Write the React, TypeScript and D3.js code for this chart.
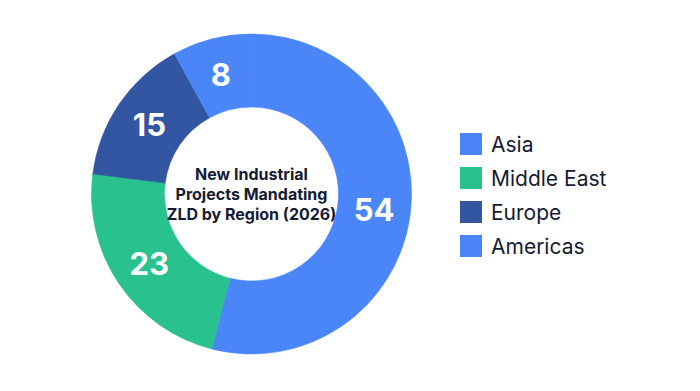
import * as d3 from "d3";

const regions = ["Asia", "Middle East", "Europe", "Americas"];
const projects = [54, 23, 15, 8];
const colors = ["#4a86f7", "#29c28f", "#3356a2", "#4a86f7"];
const titleLines = ["New Industrial", "Projects Mandating", "ZLD by Region (2026)"];

const width = 700;
const height = 391;
const cx = 251.5;
const cy = 194;
const outerR = 160;
const innerR = 87;

interface Slice {
  region: string;
  value: number;
  color: string;
}

export default function App() {
  const data: Slice[] = regions.map((r, i) => ({ region: r, value: projects[i], color: colors[i] }));

  const pie = d3.pie<Slice>().value((d) => d.value).sort(null);
  const arc = d3.arc<d3.PieArcDatum<Slice>>().innerRadius(innerR).outerRadius(outerR);
  const arcs = pie(data);

  // legend rows
  const legendY = d3.scaleBand<string>().domain(regions).range([127, 263]);

  return (
    <svg
      width={width}
      height={height}
      style={{ position: "absolute", left: 0, top: 0, background: "#fff" }}
      fontFamily="Inter, 'Noto Sans', sans-serif"
    >
      <g transform={`translate(${cx},${cy})`}>
        {arcs.map((a) => (
          <path
            key={a.data.region}
            d={arc(a) ?? ""}
            fill={a.data.color}
            stroke={a.data.color}
            strokeWidth={0.6}
            strokeLinejoin="round"
          />
        ))}
        {arcs.map((a) => {
          const [x, y] = arc.centroid(a);
          return (
            <text
              key={"l" + a.data.region}
              x={x}
              y={y}
              dy="0.36em"
              textAnchor="middle"
              fill="#fff"
              fontSize={31}
              fontWeight={700}
            >
              {a.data.value}
            </text>
          );
        })}
        {titleLines.map((t, i) => (
          <text
            key={t}
            x={0}
            y={-14 + i * 20}
            textAnchor="middle"
            fill="#141b33"
            fontSize={16}
            fontWeight={700}
          >
            {t}
          </text>
        ))}
      </g>
      <g>
        {data.map((d) => {
          const y = legendY(d.region)! + legendY.bandwidth() / 2;
          return (
            <g key={"lg" + d.region} transform={`translate(460,${y})`}>
              <rect x={0} y={-11} width={22} height={22} fill={d.color} />
              <text x={31} y={0} dy="0.36em" fill="#141b33" fontSize={21}>
                {d.region}
              </text>
            </g>
          );
        })}
      </g>
    </svg>
  );
}
